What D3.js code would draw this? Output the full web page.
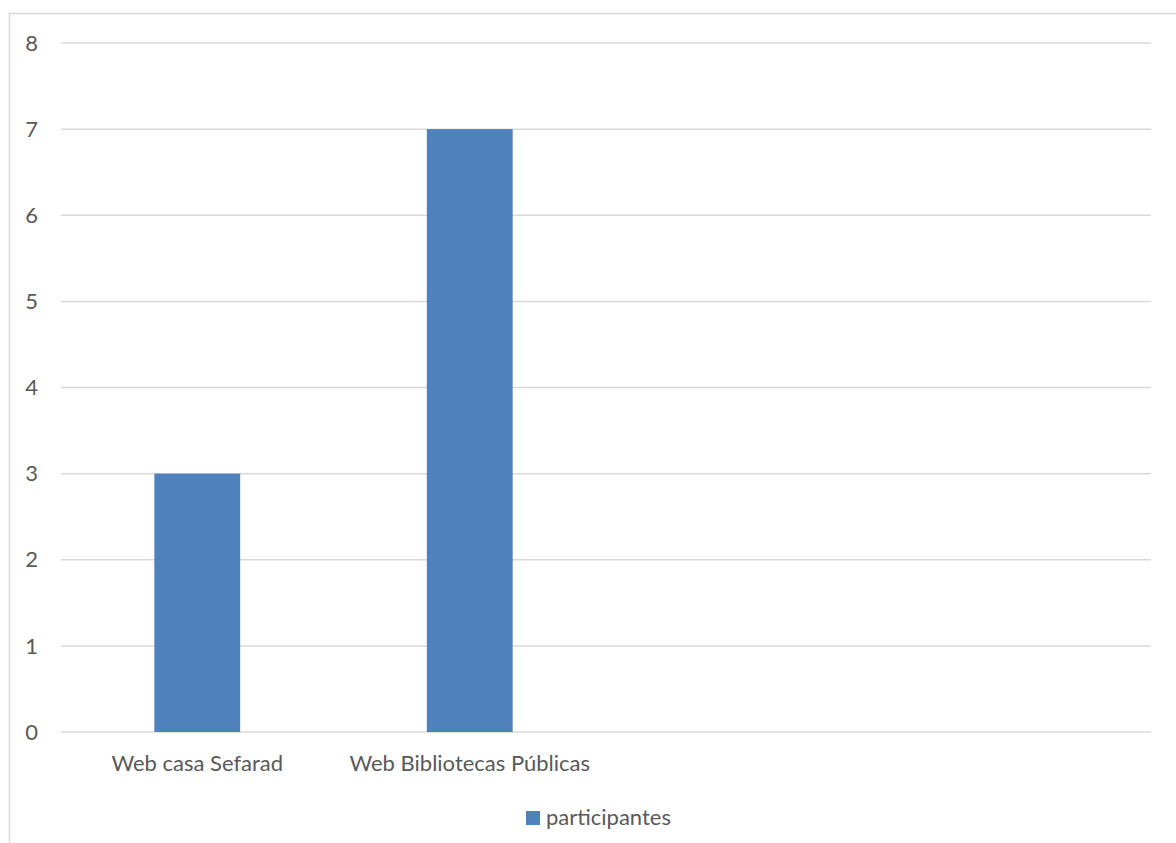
<!DOCTYPE html>
<html>
<head>
<meta charset="utf-8">
<script src="https://cdn.jsdelivr.net/npm/d3@7"></script>
<style>
  body { margin: 0; background: #fff; }
  text { font-family: Lato, "Open Sans", sans-serif; fill: #595959; }
</style>
</head>
<body>
<div class="chart"></div>
<script>
// data
const categories = ['Web casa Sefarad', 'Web Bibliotecas Públicas', '', ''];
const participantes = [3, 7, null, null];
const yTicks = [0, 1, 2, 3, 4, 5, 6, 7, 8];
const seriesName = 'participantes';

const width = 1176, height = 843;
const plotLeft = 61, plotRight = 1151, plotTop = 43, plotBottom = 732;

const svg = d3.select('.chart')
  .append('svg')
  .attr('width', width)
  .attr('height', height);

// outer chart border
svg.append('rect')
  .attr('x', 9.5).attr('y', 13.5)
  .attr('width', width + 20).attr('height', height + 20)
  .style('fill', 'none')
  .style('stroke', '#d9d9d9')
  .style('stroke-width', 1.5);

const x = d3.scaleBand()
  .domain(d3.range(categories.length))
  .range([plotLeft, plotRight])
  .paddingInner(0.685)
  .paddingOuter(0.3425);

const y = d3.scaleLinear()
  .domain([0, 8])
  .range([plotBottom, plotTop]);

// gridlines
svg.selectAll('line.grid')
  .data(yTicks)
  .enter().append('line')
  .attr('class', 'grid')
  .attr('x1', plotLeft).attr('x2', plotRight)
  .attr('y1', d => y(d)).attr('y2', d => y(d))
  .style('stroke', '#d9d9d9')
  .style('stroke-width', 1.5);

// y labels
svg.selectAll('text.ylab')
  .data(yTicks)
  .enter().append('text')
  .attr('class', 'ylab')
  .attr('x', 38)
  .attr('y', d => y(d))
  .attr('dy', '0.35em')
  .attr('text-anchor', 'end')
  .style('font-size', '22px')
  .text(d => d);

// bars
svg.selectAll('rect.bar')
  .data(participantes.map((v, i) => ({ v, i })).filter(d => d.v != null))
  .enter().append('rect')
  .attr('class', 'bar')
  .attr('x', d => x(d.i))
  .attr('width', x.bandwidth())
  .attr('y', d => y(d.v))
  .attr('height', d => y(0) - y(d.v))
  .style('fill', '#4f81bd');

// category labels
svg.selectAll('text.xlab')
  .data(categories)
  .enter().append('text')
  .attr('class', 'xlab')
  .attr('x', (d, i) => x(i) + x.bandwidth() / 2)
  .attr('y', 771)
  .attr('text-anchor', 'middle')
  .style('font-size', '22px')
  .text(d => d);

// legend
const legend = svg.append('g');
legend.append('rect')
  .attr('x', 526).attr('y', 811)
  .attr('width', 14).attr('height', 14)
  .style('fill', '#4f81bd');
legend.append('text')
  .attr('x', 546).attr('y', 825)
  .style('font-size', '22px')
  .text(seriesName);
</script>
</body>
</html>
